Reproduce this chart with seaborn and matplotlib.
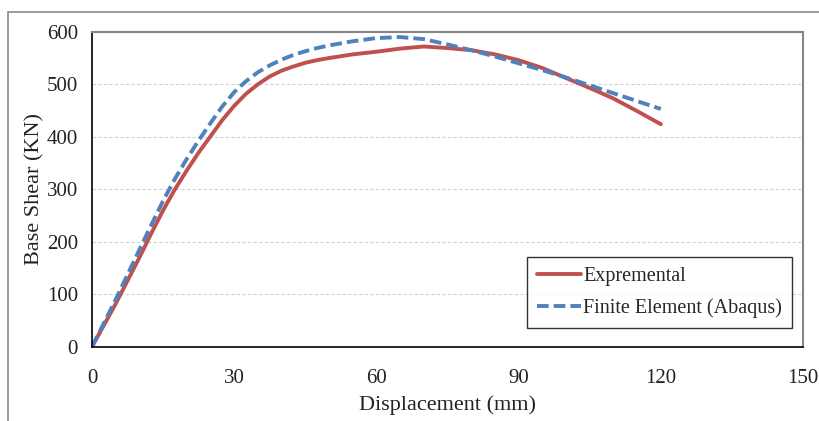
import seaborn as sns
import matplotlib.pyplot as plt
import matplotlib.patches as mpatches
import pandas as pd
import numpy as np

# displacement (mm)
disp = [0, 5, 10, 12.5, 15, 17.5, 20, 22.5, 25, 27.5, 30, 32.5, 35, 37.5, 40,
        42.5, 45, 47.5, 50, 55, 60, 65, 70, 75, 80, 85, 90, 95, 100, 105, 110,
        115, 120]
# base shear (kN)
experimental = [0, 82, 170, 216, 260, 300, 336, 370, 401, 432, 459, 482, 500,
                515, 526, 534, 541, 546, 550, 557, 562, 568, 572, 569, 565, 557,
                546, 531, 512, 493, 473, 449, 424]
finite_element = [0, 90, 185, 232, 278, 320, 358, 393, 426, 458, 485, 506, 523,
                  536, 547, 556, 563, 569, 574, 582, 588, 590, 586, 576, 565,
                  553, 540, 527, 513, 498, 483, 468, 453]

series_names = ["Expremental", "Finite Element (Abaqus)"]
x_ticks = [0, 30, 60, 90, 120, 150]
y_ticks = [0, 100, 200, 300, 400, 500, 600]

df = pd.DataFrame({
    "disp": disp * 2,
    "shear": experimental + finite_element,
    "series": [series_names[0]] * len(disp) + [series_names[1]] * len(disp),
})

sns.set_style("white")
plt.rcParams["font.family"] = ["Liberation Serif", "DejaVu Serif"]

fig = plt.figure(figsize=(8.2, 4.21), dpi=100)
ax = fig.add_axes([92 / 820, 1 - 346.8 / 421, (803 - 92) / 820, (346.8 - 31.8) / 421])

# outer chart frame (cropped at right/bottom)
fig.add_artist(mpatches.Rectangle((8 / 820, -0.1), 1.2, 1.1 - 12 / 421,
                                  transform=fig.transFigure, fill=False,
                                  edgecolor="#8c8c8c", linewidth=1.2))

sns.lineplot(data=df, x="disp", y="shear", hue="series", style="series",
             palette={series_names[0]: "#C0504D", series_names[1]: "#4F81BD"},
             dashes={series_names[0]: "", series_names[1]: (3.0, 1.3)},
             linewidth=2.8, ax=ax)

ax.set_xlim(0, 150)
ax.set_ylim(0, 600)
ax.set_xticks(x_ticks)
ax.set_yticks(y_ticks)
ax.tick_params(axis="both", direction="out", length=6, width=1, color="black",
               labelsize=15, labelcolor="#222222", pad=4)
ax.tick_params(axis="x", pad=10)

for y in y_ticks[1:-1]:
    ax.axhline(y, color="#d0d0d0", linewidth=0.8, linestyle=(0, (3, 2)), zorder=0)

for side in ["top", "right"]:
    ax.spines[side].set_color("#868686")
    ax.spines[side].set_linewidth(1.5)
for side in ["left", "bottom"]:
    ax.spines[side].set_color("black")
    ax.spines[side].set_linewidth(1.2)

ax.set_xlabel("Displacement (mm)", fontsize=16, color="#222222", labelpad=5)
ax.set_ylabel("Base Shear (KN)", fontsize=16, color="#222222", labelpad=2)

leg = ax.legend(loc="lower right", bbox_to_anchor=(0.9845, 0.0585), fontsize=14.5,
                frameon=True, fancybox=False, handlelength=2.2, handletextpad=0.1,
                borderpad=0.5, labelspacing=0.6, borderaxespad=0)
leg.get_frame().set_edgecolor("black")
leg.get_frame().set_linewidth(1.0)

fig.savefig("out.png", dpi=100)
